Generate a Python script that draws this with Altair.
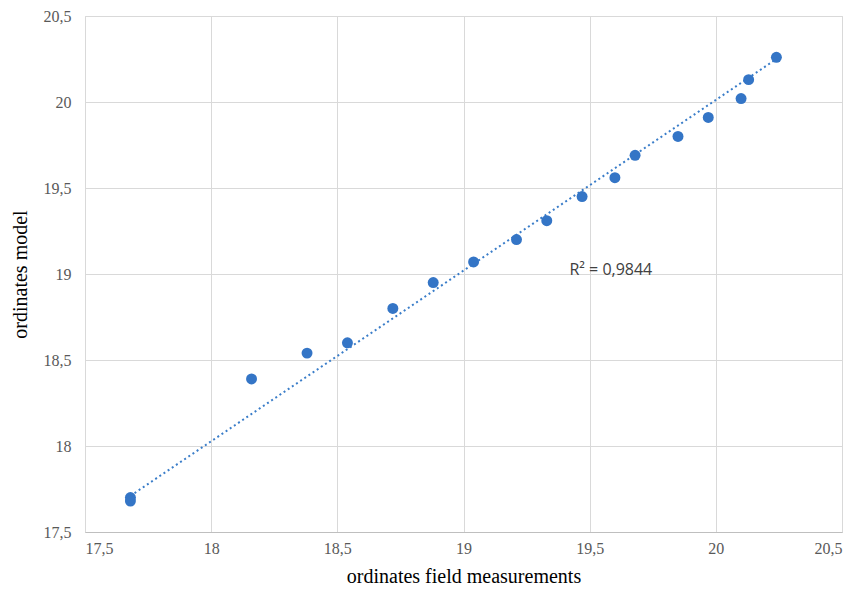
import altair as alt
import pandas as pd

x_field = [17.68, 17.68, 18.16, 18.38, 18.54, 18.72, 18.88, 19.04, 19.21, 19.33,
           19.47, 19.60, 19.68, 19.85, 19.97, 20.10, 20.13, 20.24]
y_model = [17.70, 17.68, 18.39, 18.54, 18.60, 18.80, 18.95, 19.07, 19.20, 19.31,
           19.45, 19.56, 19.69, 19.80, 19.91, 20.02, 20.13, 20.26]
trend_x = [17.68, 20.24]
trend_y = [17.71, 20.25]
axis_ticks = [17.5, 18, 18.5, 19, 19.5, 20, 20.5]
r2_label = ["R² = 0,9844"]
r2_pos_x = [19.42]
r2_pos_y = [19.025]

df = pd.DataFrame({"x": x_field, "y": y_model})
tdf = pd.DataFrame({"x": trend_x, "y": trend_y})
ann = pd.DataFrame({"x": r2_pos_x, "y": r2_pos_y, "t": r2_label})

label_font = "Liberation Sans Narrow"
label_expr = "replace(format(datum.value, '.1~f'), '.', ',')"

xs = alt.Scale(domain=[17.5, 20.5], nice=False, zero=False)
ys = alt.Scale(domain=[17.5, 20.5], nice=False, zero=False)

x_axis = alt.Axis(values=axis_ticks, labelExpr=label_expr, grid=True, gridColor="#d9d9d9",
                  domain=True, domainColor="#bfbfbf", ticks=False, labelPadding=8,
                  labelFontSize=16, labelColor="#595959", labelFont=label_font,
                  title="ordinates field measurements", titleFont="Liberation Serif",
                  titleFontSize=20, titleFontWeight="normal", titleColor="#000000",
                  titlePadding=10)
y_axis = alt.Axis(values=axis_ticks, labelExpr=label_expr, grid=True, gridColor="#d9d9d9",
                  domain=False, ticks=False, labelPadding=14,
                  labelFontSize=16, labelColor="#595959", labelFont=label_font,
                  title="ordinates model", titleFont="Liberation Serif",
                  titleFontSize=20, titleFontWeight="normal", titleColor="#000000",
                  titlePadding=13)

points = alt.Chart(df).mark_circle(size=120, opacity=1, color="#3475c6").encode(
    x=alt.X("x:Q", scale=xs, axis=x_axis),
    y=alt.Y("y:Q", scale=ys, axis=y_axis),
)

trend = alt.Chart(tdf).mark_line(
    color="#3a7dc9", strokeDash=[2, 3], strokeWidth=2
).encode(x=alt.X("x:Q", scale=xs), y=alt.Y("y:Q", scale=ys))

label = alt.Chart(ann).mark_text(align="left", baseline="middle", fontSize=16,
                                 font="Open Sans", color="#404040").encode(
    x=alt.X("x:Q", scale=xs), y=alt.Y("y:Q", scale=ys), text="t:N")

chart = alt.layer(trend, points, label).properties(
    width=757, height=516,
    autosize=alt.AutoSizeParams(type="none"),
    padding={"left": 77, "top": 8, "right": 10, "bottom": 54},
).configure_view(stroke="#d9d9d9")

chart.save("out.html", embed_options={"renderer": "svg", "actions": False})
